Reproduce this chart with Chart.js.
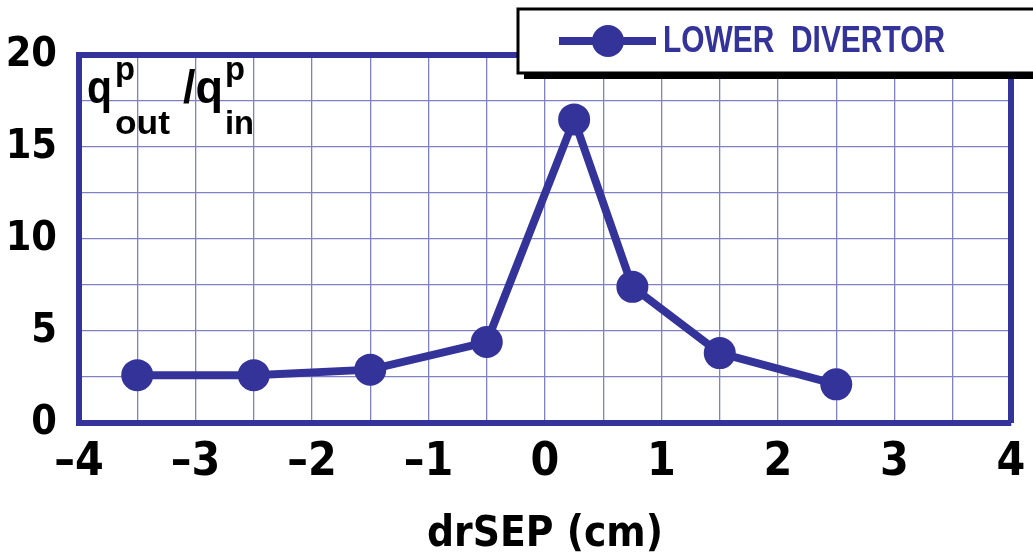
<!DOCTYPE html>
<html>
<head>
<meta charset="utf-8">
<script src="https://cdn.jsdelivr.net/npm/chart.js@4"></script>
<style>
  html, body { margin:0; padding:0; background:#fff; }
  #wrap { position:relative; width:1033px; height:560px; }
</style>
</head>
<body>
<div id="wrap"><canvas id="chart" width="1033" height="560"></canvas></div>
<script>
// data
const drSep       = [-3.5, -2.5, -1.5, -0.5, 0.25, 0.75, 1.5, 2.5];
const qRatio      = [2.6, 2.6, 2.9, 4.4, 16.5, 7.4, 3.8, 2.1];
const seriesLabel = 'LOWER  DIVERTOR';
const xTicks      = [-4, -3, -2, -1, 0, 1, 2, 3, 4];
const yTicks      = [0, 5, 10, 15, 20];

const NAVY   = '#333399';
const GRID   = '#8080c4';
const FONT   = '"DejaVu Sans Condensed", "Liberation Sans", Arial, sans-serif';
const NARROW = '"Liberation Sans", Arial, sans-serif';

// text squeezed horizontally to a given width (condensed look)
function fitText(ctx, txt, x, y, w) {
  const m = ctx.measureText(txt).width;
  ctx.save();
  ctx.translate(x, y);
  ctx.scale(w / m, 1);
  ctx.fillText(txt, 0, 0);
  ctx.restore();
}

// frame (top + right), legend box and the ratio label
const decor = {
  id: 'decor',
  afterDraw(chart) {
    const { ctx, chartArea: a } = chart;
    ctx.save();
    ctx.strokeStyle = NAVY; ctx.lineWidth = 6;
    ctx.beginPath();
    ctx.moveTo(a.left, a.top); ctx.lineTo(a.right, a.top); ctx.lineTo(a.right, a.bottom);
    ctx.stroke();

    // y label q^p_out / q^p_in
    ctx.fillStyle = '#000'; ctx.textBaseline = 'alphabetic'; ctx.textAlign = 'left';
    ctx.font = 'bold 46px ' + NARROW;
    fitText(ctx, 'q', 87, 103, 25);
    fitText(ctx, '/q', 183, 103, 40);
    ctx.font = 'bold 34px ' + NARROW;
    fitText(ctx, 'p', 115, 80, 20);
    fitText(ctx, 'out', 115, 134, 55);
    fitText(ctx, 'p', 225, 80, 20);
    fitText(ctx, 'in', 225, 134, 29);

    // legend box with drop shadow
    const bx = 518, by = 9, bw = 530, bh = 64;
    ctx.fillStyle = '#000';
    ctx.fillRect(bx + 6, by + 6, bw, bh);
    ctx.fillStyle = '#fff';
    ctx.fillRect(bx, by, bw, bh);
    ctx.strokeStyle = '#000'; ctx.lineWidth = 3;
    ctx.strokeRect(bx, by, bw, bh);

    ctx.strokeStyle = NAVY; ctx.lineWidth = 8;
    ctx.beginPath(); ctx.moveTo(559, 41); ctx.lineTo(656, 41); ctx.stroke();
    ctx.fillStyle = NAVY;
    ctx.beginPath(); ctx.arc(608, 41, 16, 0, Math.PI * 2); ctx.fill();
    ctx.font = 'bold 37px ' + NARROW;
    ctx.textBaseline = 'middle';
    fitText(ctx, seriesLabel, 663, 42, 282);
    ctx.restore();
  }
};

new Chart(document.getElementById('chart'), {
  type: 'line',
  data: {
    datasets: [{
      label: seriesLabel,
      data: drSep.map((x, i) => ({ x, y: qRatio[i] })),
      borderColor: NAVY,
      backgroundColor: NAVY,
      borderWidth: 8,
      pointRadius: 16,
      pointHoverRadius: 16,
      pointBackgroundColor: NAVY,
      pointBorderWidth: 0,
      tension: 0
    }]
  },
  options: {
    responsive: false,
    animation: false,
    layout: { padding: { top: 55, right: 22, left: 0, bottom: 0 } },
    plugins: { legend: { display: false }, tooltip: { enabled: false } },
    scales: {
      x: {
        type: 'linear', min: -4, max: 4,
        afterFit: s => { s.height = 137; s.paddingRight = 0; s.paddingLeft = 0; },
        afterBuildTicks: s => {
          s.ticks = [];
          for (let v = -8; v <= 8; v++) s.ticks.push({ value: v / 2 });
        },
        grid: { color: GRID, lineWidth: 1.3, drawTicks: false },
        border: { display: true, color: NAVY, width: 6 },
        ticks: {
          color: '#000', padding: 12, maxRotation: 0, autoSkip: false,
          font: { family: FONT, size: 46, weight: 'bold' },
          callback: v => xTicks.includes(v) ? (v < 0 ? '\u2013' + Math.abs(v) : String(v)) : ''
        },
        title: {
          display: true, text: 'drSEP (cm)', color: '#000',
          font: { family: FONT, size: 42, weight: 'bold' },
          padding: { top: 0, bottom: 0 }
        }
      },
      y: {
        min: 0, max: 20,
        afterFit: s => { s.width = 79; },
        afterBuildTicks: s => {
          s.ticks = [];
          for (let v = 0; v <= 8; v++) s.ticks.push({ value: v * 2.5 });
        },
        grid: { color: GRID, lineWidth: 1.3, drawTicks: false },
        border: { display: true, color: NAVY, width: 6 },
        ticks: {
          color: '#000', padding: 22, autoSkip: false,
          font: { family: FONT, size: 41, weight: 'bold' },
          callback: v => yTicks.includes(v) ? String(v) : ''
        }
      }
    }
  },
  plugins: [decor]
});
</script>
</body>
</html>
